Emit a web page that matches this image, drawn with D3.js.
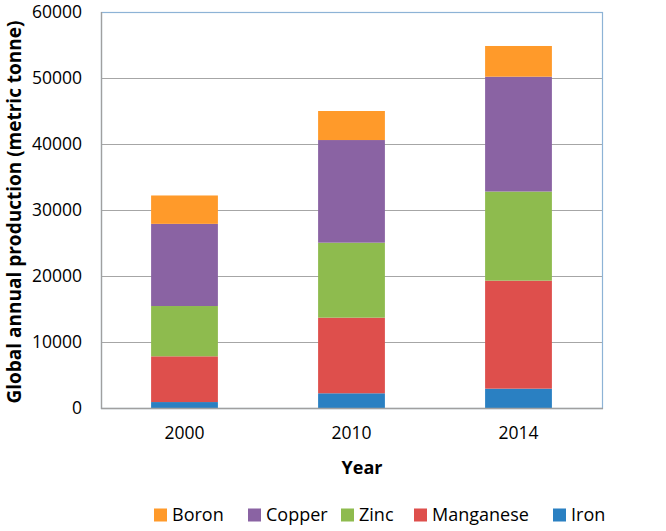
<!DOCTYPE html>
<html><head><meta charset="utf-8">
<script src="https://cdn.jsdelivr.net/npm/d3@7"></script>
<style>body{margin:0;background:#fff;} text{font-family:"Open Sans",sans-serif;}</style>
</head><body>
<svg id="c" width="666" height="531"></svg>
<script>
const years = ["2000", "2010", "2014"];
const seriesNames = ["Iron", "Manganese", "Zinc", "Copper", "Boron"];
const iron = [900, 2230, 2930];
const manganese = [6930, 11460, 16370];
const zinc = [7620, 11360, 13500];
const copper = [12450, 15550, 17400];
const boron = [4300, 4400, 4650];
const colors = ["#2A80C2", "#DE4F4C", "#8EBB4E", "#8A63A3", "#FF9A2A"];
const legendOrder = ["Boron", "Copper", "Zinc", "Manganese", "Iron"];
const yTicks = [0, 10000, 20000, 30000, 40000, 50000, 60000];

const rows = years.map((y, i) => ({year: y, Iron: iron[i], Manganese: manganese[i], Zinc: zinc[i], Copper: copper[i], Boron: boron[i]}));
const stack = d3.stack().keys(seriesNames)(rows);

const svg = d3.select("#c");
const L = 101, R = 602, T = 12, B = 408;
const x = d3.scaleBand().domain(years).range([L, R]).paddingInner(0.6).paddingOuter(0.3);
const y = d3.scaleLinear().domain([0, 60000]).range([B, T]);
const color = d3.scaleOrdinal().domain(seriesNames).range(colors);

// gridlines
svg.append("g").selectAll("line").data(yTicks.slice(1, -1)).join("line")
  .attr("x1", L).attr("x2", R).attr("y1", d => y(d) + 0.5).attr("y2", d => y(d) + 0.5)
  .attr("stroke", "#A6A6A6").attr("stroke-width", 1.2);

// plot border (top/right light blue)
svg.append("rect").attr("x", L + 0.5).attr("y", T + 0.5).attr("width", R - L).attr("height", B - T)
  .attr("fill", "none").attr("stroke", "#8DB3D6").attr("stroke-width", 1.2);

// bars
svg.append("g").selectAll("g").data(stack).join("g").attr("fill", d => color(d.key))
  .selectAll("rect").data(d => d).join("rect")
  .attr("x", d => x(d.data.year)).attr("width", x.bandwidth())
  .attr("y", d => y(d[1])).attr("height", d => y(d[0]) - y(d[1]));

// axes lines
svg.append("line").attr("x1", L + 0.5).attr("x2", L + 0.5).attr("y1", T).attr("y2", B + 1).attr("stroke", "#A0A0A0").attr("stroke-width", 1.3);
svg.append("line").attr("x1", L).attr("x2", R + 1).attr("y1", B + 0.5).attr("y2", B + 0.5).attr("stroke", "#A0A0A0").attr("stroke-width", 1.3);

// y axis labels
const yAxis = d3.axisLeft(y).tickValues(yTicks).tickSize(0).tickPadding(19).tickFormat(d3.format("d"));
const ya = svg.append("g").attr("transform", `translate(${L},0)`).call(yAxis);
ya.select(".domain").remove();
ya.selectAll("text").attr("font-size", 17.5).attr("fill", "#000").style("font-family", "'Open Sans',sans-serif");

// x axis labels
const xAxis = d3.axisBottom(x).tickSize(0).tickPadding(19);
const xa = svg.append("g").attr("transform", `translate(0,${B})`).call(xAxis);
xa.select(".domain").remove();
xa.selectAll("text").attr("font-size", 17.5).attr("fill", "#000").style("font-family", "'Open Sans',sans-serif");

// titles
svg.append("text").attr("x", 362).attr("y", 474).attr("text-anchor", "middle")
  .attr("font-size", 18).attr("font-weight", "bold").text("Year");
svg.append("text").attr("transform", "translate(21,212) rotate(-90)").attr("text-anchor", "middle")
  .attr("font-size", 19).attr("font-weight", "bold").text("Global annual production (metric tonne)");

// legend
const legX = [154, 248, 341, 414, 553];
const lg = svg.append("g").selectAll("g").data(legendOrder).join("g")
  .attr("transform", (d, i) => `translate(${legX[i]},515)`);
lg.append("rect").attr("x", 0).attr("y", -6.5).attr("width", 13).attr("height", 13).attr("fill", d => color(d));
lg.append("text").attr("x", 18).attr("y", 0).attr("dy", "0.35em").attr("font-size", 18).text(d => d);
</script>
</body></html>
